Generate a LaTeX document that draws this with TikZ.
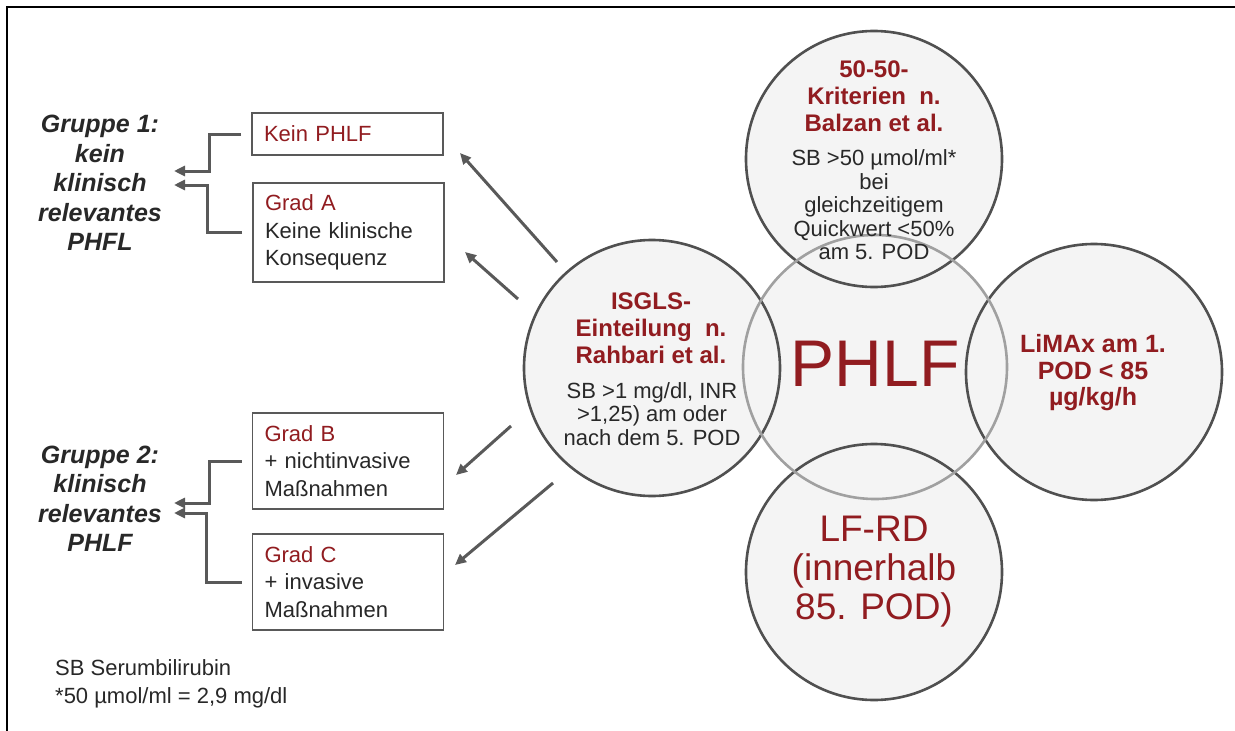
\documentclass[tikz,border=0pt]{standalone}
\usepackage{fontspec}
\setmainfont{Liberation Sans}
\usetikzlibrary{arrows.meta,calc}
\definecolor{dred}{RGB}{145,28,32}
\definecolor{dtext}{RGB}{40,40,40}
\definecolor{lgray}{RGB}{89,89,89}
\definecolor{cfill}{RGB}{244,244,244}
\definecolor{cline}{RGB}{80,80,80}
\definecolor{pline}{RGB}{160,160,160}
\begin{document}
\begin{tikzpicture}[x=1pt,y=-1pt,
  box/.style={draw=lgray, line width=1.8pt, rectangle, inner xsep=12pt, inner ysep=0pt, text width=167pt, align=left, font=\fontsize{22}{27.5}\selectfont, text=dtext},
  grp/.style={align=center, font=\fontsize{25}{29.5}\selectfont\bfseries\itshape, text=dtext},
  circ/.style={circle, minimum size=256pt, inner sep=0pt, fill=cfill},
  ring/.style={draw=cline, line width=2.6pt},
  ctitle/.style={align=center, font=\fontsize{24}{27}\selectfont\bfseries, text=dred, inner sep=0pt},
  cbody/.style={align=center, font=\fontsize{22}{23.5}\selectfont, text=dtext, inner sep=0pt},
  conn/.style={draw=lgray, line width=3pt},
  arr/.style={conn, -{Triangle[length=11pt,width=10pt]}},
]
\useasboundingbox (0,0) rectangle (1235,731);
\fill[white] (0,0) rectangle (1235,731);
\draw[line width=2pt] (7,731) -- (7,7) -- (1236,7);

% boxes
\node[box, minimum height=42pt] (kein) at (347.5,134) {\textcolor{dred}{Kein PHLF}};
\node[box, minimum height=99pt] (gradA) at (348.5,232.5) {\textcolor{dred}{Grad A}\\Keine klinische\\Konsequenz};
\node[box, minimum height=96pt] (gradB) at (348,461) {\textcolor{dred}{Grad B}\\+ nichtinvasive\\Maßnahmen};
\node[box, minimum height=96pt] (gradC) at (348,582) {\textcolor{dred}{Grad C}\\+ invasive\\Maßnahmen};

% group labels
\node[grp] (g1) at (100,183) {Gruppe 1:\\kein\\klinisch\\relevantes\\PHFL};
\node[grp] (g2) at (100,499) {Gruppe 2:\\klinisch\\relevantes\\PHLF};

\coordinate (g1a) at (174,171);
\coordinate (g1b) at (174,185);
\coordinate (g2a) at (174,503);
\coordinate (g2b) at (174,513);
\draw[arr, shorten <=10pt] (kein.west) -| ([xshift=35pt]g1a) -- (g1a);
\draw[arr, shorten <=10pt] (gradA.west) -| ([xshift=33pt]g1b) -- (g1b);
\draw[arr, shorten <=10pt] (gradB.west) -| ([xshift=35pt]g2a) -- (g2a);
\draw[arr, shorten <=10pt] (gradC.west) -| ([xshift=32pt]g2b) -- (g2b);

% diagonal arrows
\coordinate (d1s) at (557,262); \coordinate (d1e) at (460,153);
\coordinate (d2s) at (518,299); \coordinate (d2e) at (465,252);
\coordinate (d3s) at (511,426); \coordinate (d3e) at (456,475);
\coordinate (d4s) at (553,483); \coordinate (d4e) at (455,565);
\draw[arr] (d1s) -- (d1e);
\draw[arr] (d2s) -- (d2e);
\draw[arr] (d3s) -- (d3e);
\draw[arr] (d4s) -- (d4e);

% circles
\node[circ, minimum size=264pt] (phlf) at (875,367) {};
\node[circ] (top) at (874,159) {};
\node[circ] (isgls) at (652,368) {};
\node[circ] (limax) at (1094,372) {};
\node[circ] (lfrd) at (874,572) {};
\draw[ring] (top.center) circle[radius=128pt];
\draw[ring] (isgls.center) circle[radius=128pt];
\draw[ring] (limax.center) circle[radius=128pt];
\draw[ring] (lfrd.center) circle[radius=128pt];
\draw[ring, draw=pline] (phlf.center) circle[radius=132pt];

% circle texts
\node[ctitle] (toptitle) at (874,96) {50-50-\\Kriterien\ \ n.\\Balzan et al.};
\node[cbody] (topbody) at (874,205) {SB >50 µmol/ml*\\bei\\gleichzeitigem\\Quickwert <50\%\\am 5. POD};
\node[ctitle] (isgtitle) at (651,328) {ISGLS-\\Einteilung\ \ n.\\Rahbari et al.};
\node[cbody] (isgbody) at (652,414) {SB >1 mg/dl, INR\\>1,25) am oder\\nach dem 5. POD};
\node[font=\fontsize{66}{70}\selectfont, text=dred, inner sep=0pt] (phlftext) at (875,364) {PHLF};
\node[ctitle, font=\fontsize{25}{26.5}\selectfont\bfseries] (limaxtext) at (1093,373) {LiMAx am 1.\\POD < 85\\µg/kg/h};
\node[align=center, font=\fontsize{37}{39}\selectfont, text=dred, inner sep=0pt] (lfrdtext) at (874,572) {LF-RD\\(innerhalb\\85. POD)};

% footnote
\node[anchor=west, align=left, font=\fontsize{22}{28}\selectfont, text=dtext, inner sep=0pt] (foot) at (55,684) {SB Serumbilirubin\\*50 µmol/ml = 2,9 mg/dl};
\end{tikzpicture}
\end{document}
